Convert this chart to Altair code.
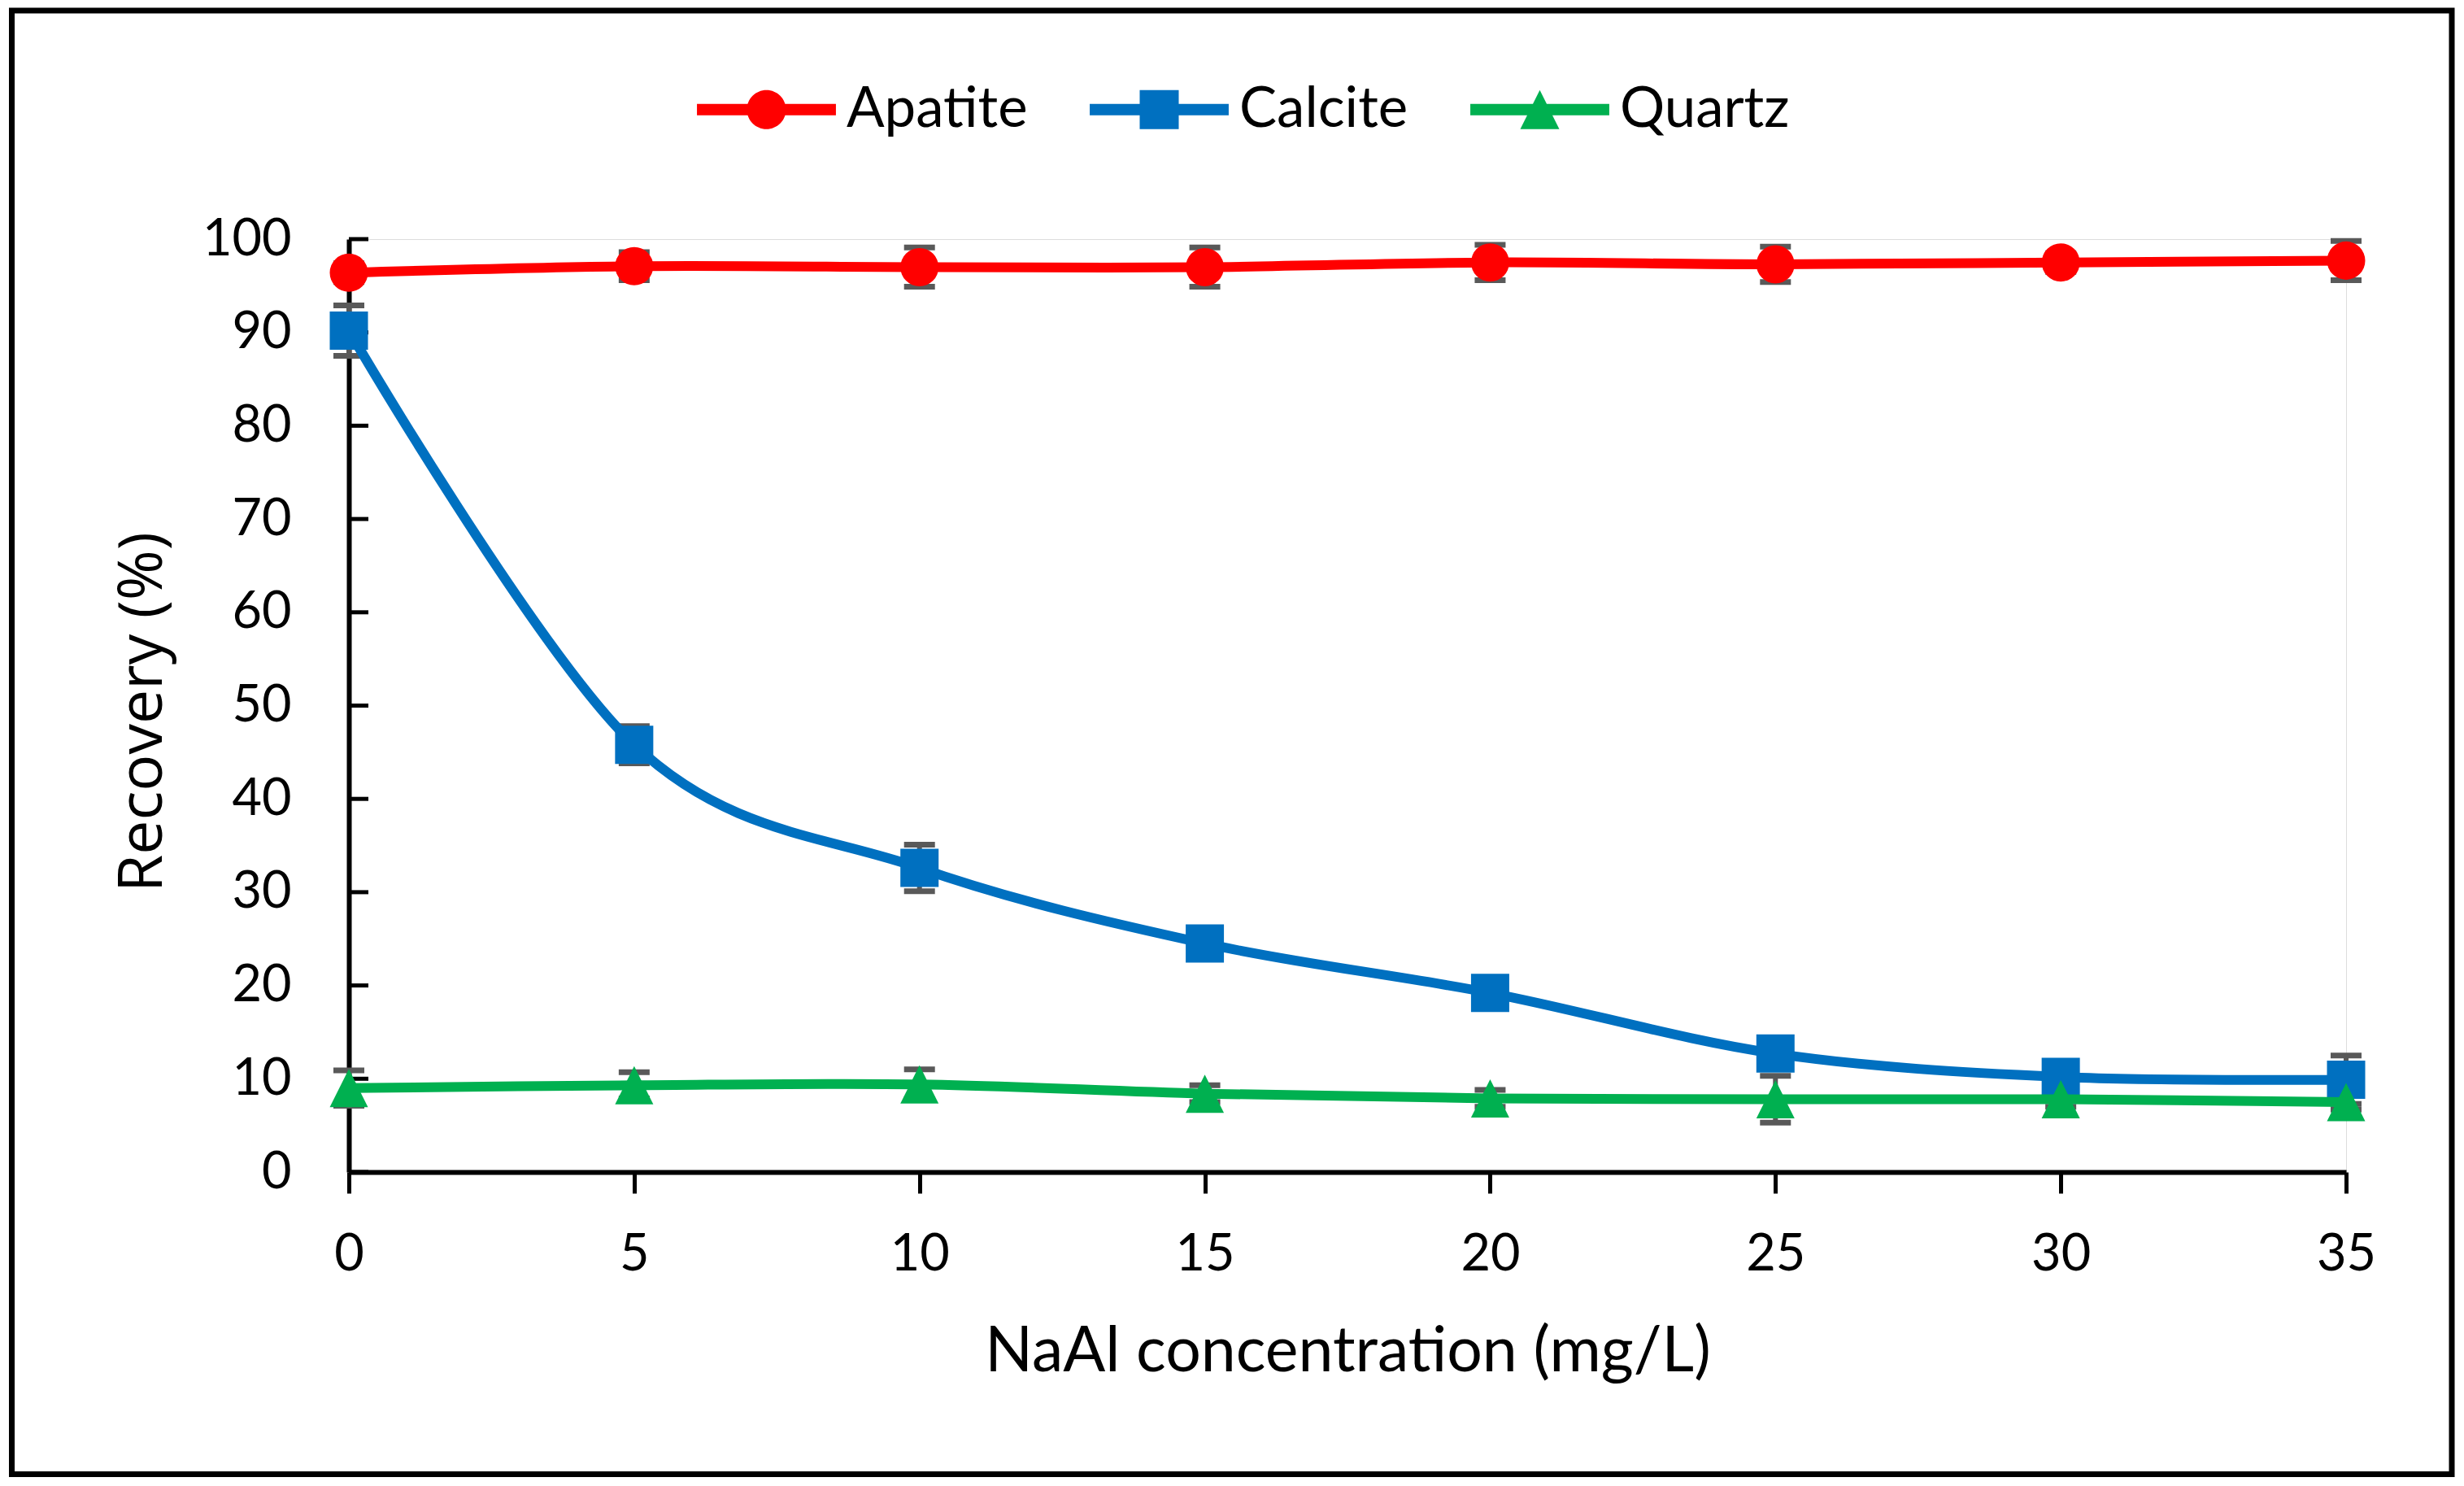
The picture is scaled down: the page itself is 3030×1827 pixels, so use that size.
import altair as alt
import pandas as pd

# ---- data ----
conc = [0, 5, 10, 15, 20, 25, 30, 35]
apatite = [96.4, 97.1, 97.0, 97.0, 97.5, 97.3, 97.5, 97.7]
apatite_err = [1.0, 1.5, 2.1, 2.1, 1.9, 1.9, 1.0, 2.1]
calcite = [90.2, 45.8, 32.6, 24.5, 19.2, 12.7, 10.2, 9.9]
calcite_err = [2.7, 2.0, 2.5, 1.0, 1.0, 1.0, 1.0, 2.6]
quartz = [9.0, 9.3, 9.4, 8.4, 7.9, 7.8, 7.8, 7.5]
quartz_err = [1.9, 1.4, 1.6, 0.9, 0.9, 2.5, 0.8, 0.8]

series_names = ["Apatite", "Calcite", "Quartz"]
series_colors = ["#FF0000", "#0070C0", "#00B050"]
y_ticks = [0, 10, 20, 30, 40, 50, 60, 70, 80, 90, 100]
x_title = "NaAl concentration (mg/L)"
y_title = "Recovery (%)"

# marker shapes for plot, and legend shapes (line + marker)
marker_shapes = ["circle", "square", "M0,-1L1,1L-1,1Z"]
line_path = "M-3.56,-0.29H3.56V0.29H-3.56Z"
legend_shapes = [
    line_path + "M1,0A1,1 0 1,1 -1,0A1,1 0 1,1 1,0Z",
    line_path + "M-1,-1H1V1H-1Z",
    line_path + "M0,-1L1,1L-1,1Z",
]

rows = []
for name, vals, errs, shp, col in zip(
    series_names,
    [apatite, calcite, quartz],
    [apatite_err, calcite_err, quartz_err],
    marker_shapes,
    series_colors,
):
    for c, v, e in zip(conc, vals, errs):
        rows.append(dict(series=name, conc=c, rec=v, lo=v - e, hi=v + e,
                         shape=shp, color=col))
df = pd.DataFrame(rows)

W, H = 2456, 1147

xscale = alt.Scale(domain=[0, 35], nice=False, zero=False)
yscale = alt.Scale(domain=[0, 100], nice=False)

xaxis = alt.Axis(
    values=conc, format="d", grid=False,
    labelFont="Lato", labelFontSize=63, labelColor="black", labelPadding=44,
    labelFlush=False, labelOverlap=False,
    tickSize=26, tickWidth=5, tickColor="black",
    domainColor="black", domainWidth=6,
    titleFont="Lato", titleFontSize=77, titleFontWeight="normal", titleColor="black",
    titleX=W / 2, titleY=244, titleAlign="center", titleBaseline="alphabetic",
)
yaxis = alt.Axis(
    values=y_ticks, format="d", grid=False,
    labelFont="Lato", labelFontSize=63, labelColor="black", labelPadding=71,
    labelFlush=False, labelOverlap=False,
    ticks=False, tickSize=0,
    domainColor="black", domainWidth=6,
    titleFont="Open Sans", titleFontSize=75, titleFontWeight="normal", titleColor="black",
    titleAngle=270, titleX=-231, titleY=581, titleAlign="center", titleBaseline="alphabetic",
)


def X(field):
    return alt.X(field + ":Q", scale=xscale, axis=xaxis, title=x_title)


def Y(field):
    return alt.Y(field + ":Q", scale=yscale, axis=yaxis, title=y_title)


base = alt.Chart(df)

# outer frame
frame = alt.Chart(pd.DataFrame({"d": [0]})).mark_rect(
    fillOpacity=0, stroke="black", strokeWidth=7
).encode(
    x=alt.value(-414.5), x2=alt.value(2586), y=alt.value(-281), y2=alt.value(1518.5)
)

# inward y ticks
yticks = alt.Chart(pd.DataFrame({"t": y_ticks})).mark_rule(
    color="black", strokeWidth=5
).encode(y=alt.Y("t:Q", scale=yscale, axis=yaxis, title=y_title),
         x=alt.value(0), x2=alt.value(24))

# error bars
stems = base.mark_rule(color="#595959", strokeWidth=6).encode(
    x=X("conc"), y=Y("lo"), y2=alt.Y2("hi"))
cap_lo = base.mark_tick(color="#595959", orient="horizontal", size=38,
                        thickness=7, opacity=1).encode(x=X("conc"), y=Y("lo"))
cap_hi = base.mark_tick(color="#595959", orient="horizontal", size=38,
                        thickness=7, opacity=1).encode(x=X("conc"), y=Y("hi"))

layers = [frame, yticks, stems, cap_lo, cap_hi]
for name in series_names:
    sub = base.transform_filter(alt.datum.series == name)
    line = sub.mark_line(interpolate="cardinal", tension=0, strokeWidth=12).encode(
        x=X("conc"), y=Y("rec"), color=alt.Color("color:N", scale=None))
    pts = sub.mark_point(filled=True, opacity=1, size=2209, strokeWidth=0).encode(
        x=X("conc"), y=Y("rec"),
        color=alt.Color("color:N", scale=None),
        shape=alt.Shape("shape:N", scale=None))
    layers += [line, pts]

leg = alt.Legend(
    orient="none", legendX=479, legendY=-194, direction="horizontal", columns=3,
    symbolSize=2304, symbolStrokeWidth=0, symbolOpacity=1,
    labelFont="Lato", labelFontSize=69, labelColor="black", labelLimit=600,
    labelOffset=64, columnPadding=76, padding=0, title=None,
)
legend_layer = base.transform_filter("false").mark_point(filled=True, opacity=1).encode(
    x=X("conc"), y=Y("rec"),
    color=alt.Color("series:N", scale=alt.Scale(domain=series_names, range=series_colors),
                    legend=leg, title=None),
    shape=alt.Shape("series:N", scale=alt.Scale(domain=series_names, range=legend_shapes),
                    legend=leg, title=None),
)
layers.append(legend_layer)

chart = alt.layer(*layers).properties(
    width=W, height=H,
    autosize=alt.AutoSizeParams(type="none"),
    padding={"left": 421, "top": 286, "right": 137, "bottom": 378},
).configure_view(strokeWidth=0).configure(background="white")

chart.save("out.html", embed_options={"renderer": "svg", "actions": False})
